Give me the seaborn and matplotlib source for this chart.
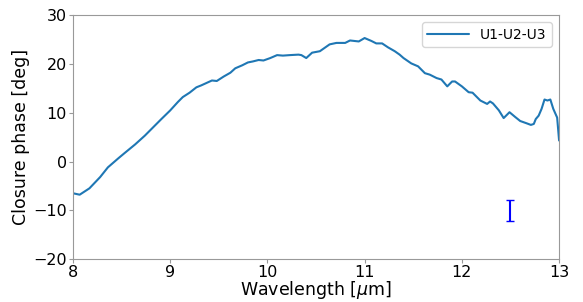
import numpy as np
import pandas as pd
import seaborn as sns
import matplotlib
matplotlib.use('Agg')
import matplotlib.pyplot as plt

# wavelength [um] / closure phase [deg]
wavelength = [8.00, 8.07, 8.17, 8.28, 8.36, 8.47, 8.53, 8.64, 8.74, 8.81,
              8.91, 9.00, 9.08, 9.13, 9.20, 9.27, 9.32, 9.43, 9.48, 9.55,
              9.62, 9.67, 9.74, 9.80, 9.85, 9.91, 9.96, 10.03, 10.10, 10.16,
              10.23, 10.32, 10.35, 10.40, 10.46, 10.54, 10.59, 10.64, 10.71, 10.80,
              10.85, 10.94, 11.00, 11.07, 11.12, 11.18, 11.24, 11.31, 11.36, 11.40,
              11.48, 11.55, 11.62, 11.67, 11.74, 11.79, 11.85, 11.90, 11.93, 12.00,
              12.07, 12.11, 12.19, 12.26, 12.29, 12.32, 12.38, 12.43, 12.49, 12.55,
              12.60, 12.67, 12.71, 12.74, 12.76, 12.79, 12.82, 12.85, 12.88, 12.91,
              12.94, 12.98, 13.00]
closure_phase = [-6.5, -6.8, -5.5, -3.2, -1.2, 0.7, 1.7, 3.5, 5.3, 6.7,
                 8.7, 10.45, 12.2, 13.2, 14.1, 15.2, 15.6, 16.6, 16.5, 17.4,
                 18.2, 19.1, 19.7, 20.3, 20.5, 20.8, 20.7, 21.2, 21.8, 21.7,
                 21.8, 21.9, 21.8, 21.2, 22.3, 22.6, 23.3, 24.0, 24.3, 24.3,
                 24.8, 24.6, 25.3, 24.7, 24.2, 24.2, 23.4, 22.6, 21.9, 21.2,
                 20.1, 19.5, 18.1, 17.8, 17.1, 16.8, 15.4, 16.4, 16.4, 15.4,
                 14.2, 14.1, 12.5, 11.8, 12.3, 11.9, 10.5, 8.9, 10.1, 9.1,
                 8.3, 7.8, 7.5, 7.7, 8.7, 9.4, 10.8, 12.7, 12.5, 12.7,
                 10.8, 9.0, 4.3]

# typical error bar
err_x = [12.5]
err_y = [-10.0]
err_size = [2.2]

df = pd.DataFrame({'wl': wavelength, 'cp': closure_phase})

sns.set_style('ticks')
plt.rcParams['font.family'] = ['DejaVu Sans']
plt.rcParams['text.color'] = 'black'
plt.rcParams['axes.labelcolor'] = 'black'
plt.rcParams['xtick.labelcolor'] = 'black'
plt.rcParams['ytick.labelcolor'] = 'black'

fig, ax = plt.subplots(figsize=(5.83, 3.02), dpi=100)
fig.subplots_adjust(left=0.125, right=0.959, top=0.95, bottom=0.142)

sns.lineplot(data=df, x='wl', y='cp', ax=ax, color='#1f77b4', lw=1.5,
             label='U1-U2-U3')
ax.errorbar(err_x, err_y, yerr=err_size, fmt='none', ecolor='blue',
            capsize=3, elinewidth=1.5)

ax.set_xlim(8, 13)
ax.set_ylim(-20, 30)
ax.set_xticks([8, 9, 10, 11, 12, 13])
ax.set_yticks([-20, -10, 0, 10, 20, 30])
ax.set_xlabel(r'Wavelength [$\mu$m]', fontsize=12.5, labelpad=-1)
ax.set_ylabel('Closure phase [deg]', fontsize=12.5, labelpad=2)
ax.tick_params(labelsize=11.5, color='#999999', length=3, pad=1.5)
for s in ax.spines.values():
    s.set_color('#999999')

ax.legend(loc='upper right', fontsize=10, frameon=True, handlelength=3)

fig.savefig('out.png', dpi=100)
